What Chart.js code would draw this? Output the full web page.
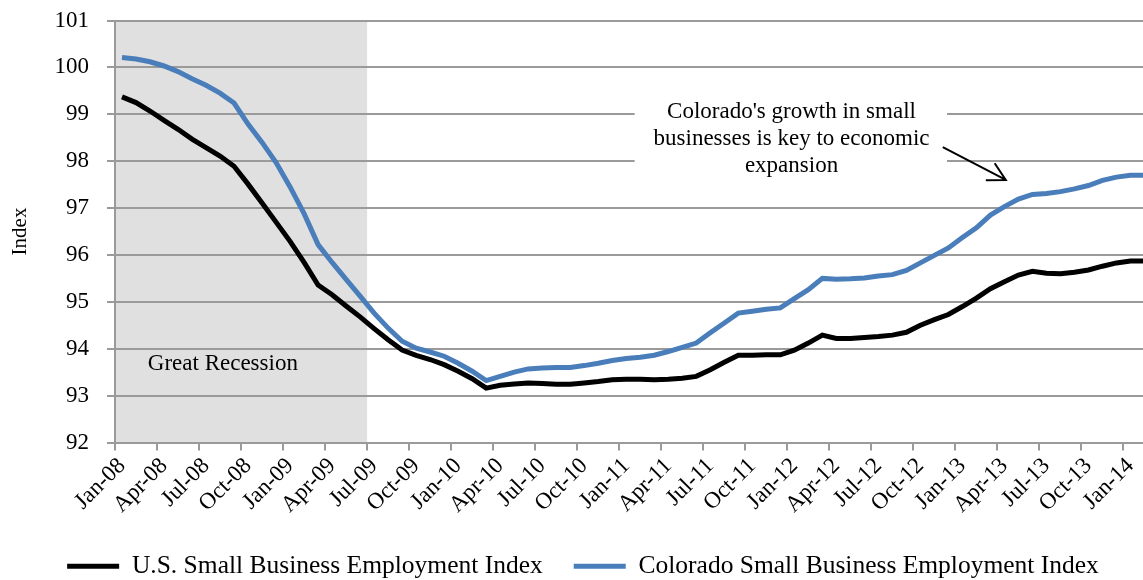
<!DOCTYPE html>
<html>
<head>
<meta charset="utf-8">
<script src="https://cdn.jsdelivr.net/npm/chart.js@4.4.1/dist/chart.umd.min.js"></script>
<style>
  html, body { margin: 0; padding: 0; background: #fff; overflow: hidden; }
  #wrap { position: relative; width: 1166px; height: 598px; margin-top: -9px; }
</style>
</head>
<body>
<div id="wrap"><canvas id="smallBizChart"></canvas></div>
<script>
// monthly categories, Jan-08 .. Feb-14
const monthNames = ['Jan', 'Feb', 'Mar', 'Apr', 'May', 'Jun', 'Jul', 'Aug', 'Sep', 'Oct', 'Nov', 'Dec'];
const months = [];
for (let yr = 2008; yr <= 2014; yr++) {
    for (let m = 0; m < 12; m++) {
        if (yr === 2014 && m > 1) break;
        months.push(monthNames[m] + '-' + String(yr).slice(2));
    }
}

const usIndex = [
    99.37, 99.25, 99.07, 98.87, 98.68, 98.47, 98.29, 98.11, 97.89, 97.51, 97.11, 96.70,
    96.29, 95.84, 95.36, 95.15, 94.91, 94.68, 94.43, 94.19, 93.97, 93.86, 93.77, 93.66,
    93.52, 93.36, 93.16, 93.22, 93.25, 93.27, 93.26, 93.24, 93.24, 93.27, 93.30, 93.34,
    93.35, 93.35, 93.34, 93.35, 93.37, 93.41, 93.55, 93.71, 93.86, 93.86, 93.87, 93.87,
    93.97, 94.12, 94.29, 94.22, 94.22, 94.24, 94.26, 94.29, 94.35, 94.50, 94.62, 94.73,
    94.90, 95.08, 95.28, 95.43, 95.57, 95.65, 95.61, 95.60, 95.63, 95.68, 95.76, 95.83,
    95.87, 95.87
];
const coloradoIndex = [
    100.21, 100.18, 100.12, 100.03, 99.91, 99.76, 99.62, 99.45, 99.24, 98.79, 98.40, 97.97,
    97.45, 96.88, 96.22, 95.84, 95.48, 95.12, 94.76, 94.44, 94.16, 94.01, 93.93, 93.84,
    93.69, 93.52, 93.32, 93.41, 93.50, 93.57, 93.59, 93.60, 93.60, 93.64, 93.69, 93.75,
    93.79, 93.82, 93.86, 93.94, 94.03, 94.12, 94.34, 94.55, 94.76, 94.80, 94.84, 94.87,
    95.07, 95.26, 95.50, 95.48, 95.49, 95.51, 95.55, 95.58, 95.67, 95.83, 95.99, 96.15,
    96.37, 96.58, 96.85, 97.03, 97.19, 97.29, 97.31, 97.35, 97.41, 97.48, 97.59, 97.66,
    97.70, 97.70
];

const yRange = [92, 101];
const recession = ['Jan-08', 'Jun-09'];
const calloutLines = ["Colorado's growth in small", 'businesses is key to economic', 'expansion'];

const FONT = "'Liberation Serif', 'Times New Roman', serif";
const GRID = '#9a9a9a';

// shaded recession band, callout box, arrow and labels
const decorations = {
    id: 'decorations',
    beforeDraw(chart) {
        const { ctx, chartArea: area, scales: { x } } = chart;
        const half = (x.getPixelForValue(1) - x.getPixelForValue(0)) / 2;
        const x0 = x.getPixelForValue(months.indexOf(recession[0])) - half;
        const x1 = x.getPixelForValue(months.indexOf(recession[1])) + half;
        ctx.save();
        ctx.fillStyle = '#e0e0e0';
        ctx.fillRect(x0, area.top, x1 - x0, area.bottom - area.top);
        ctx.restore();
    },
    beforeDatasetsDraw(chart) {
        const { ctx, scales: { x, y } } = chart;
        ctx.save();
        ctx.fillStyle = '#000';
        ctx.font = '23px ' + FONT;
        ctx.textAlign = 'center';
        ctx.textBaseline = 'middle';
        ctx.fillText('Great Recession', x.getPixelForValue(7.2), y.getPixelForValue(93.67));

        // callout text on a white box
        const cx = x.getPixelForValue(47.8);
        const cy = y.getPixelForValue(99.05);
        const bx0 = x.getPixelForValue(36.6);
        const bx1 = x.getPixelForValue(58.9);
        const by0 = y.getPixelForValue(99.45);
        const by1 = y.getPixelForValue(97.5);
        ctx.fillStyle = '#fff';
        ctx.fillRect(bx0, by0, bx1 - bx0, by1 - by0);
        ctx.fillStyle = '#000';
        calloutLines.forEach((line, i) => ctx.fillText(line, cx, cy + i * 27));

        // arrow towards the Colorado line
        const ax = x.getPixelForValue(58.6), ay = y.getPixelForValue(98.3);
        const tx = x.getPixelForValue(63.1), ty = y.getPixelForValue(97.6);
        const ang = Math.atan2(ty - ay, tx - ax);
        ctx.strokeStyle = '#000';
        ctx.lineWidth = 2;
        ctx.beginPath();
        ctx.moveTo(ax, ay);
        ctx.lineTo(tx, ty);
        ctx.moveTo(tx - 20 * Math.cos(ang - 0.5), ty - 20 * Math.sin(ang - 0.5));
        ctx.lineTo(tx, ty);
        ctx.lineTo(tx - 20 * Math.cos(ang + 0.5), ty - 20 * Math.sin(ang + 0.5));
        ctx.stroke();
        ctx.restore();
    }
};

const ctx = document.getElementById('smallBizChart').getContext('2d');
new Chart(ctx, {
    type: 'line',
    data: {
        labels: months,
        datasets: [{
            label: 'U.S. Small Business Employment Index',
            data: usIndex,
            borderColor: '#000',
            backgroundColor: '#000',
            borderWidth: 5,
            pointRadius: 0,
            tension: 0
        }, {
            label: 'Colorado Small Business Employment Index',
            data: coloradoIndex,
            borderColor: '#4a7ebb',
            backgroundColor: '#4a7ebb',
            borderWidth: 5,
            pointRadius: 0,
            tension: 0
        }]
    },
    options: {
        responsive: true,
        maintainAspectRatio: false,
        animation: false,
        layout: { padding: 0 },
        plugins: {
            tooltip: { enabled: false },
            legend: {
                position: 'bottom',
                labels: {
                    usePointStyle: true,
                    pointStyle: 'line',
                    pointStyleWidth: 52,
                    color: '#000',
                    padding: 31,
                    font: { family: FONT, size: 25.5 }
                }
            }
        },
        scales: {
            x: {
                offset: true,
                grid: {
                    offset: true,
                    drawOnChartArea: false,
                    tickLength: 8,
                    lineWidth: 2,
                    tickColor: c => (c.index % 3 === 0 ? GRID : 'transparent')
                },
                border: { color: GRID, width: 2 },
                ticks: {
                    autoSkip: false,
                    minRotation: 45,
                    maxRotation: 45,
                    padding: 2,
                    color: '#000',
                    font: { family: FONT, size: 23 },
                    callback: (v, i) => (i % 3 === 0 ? months[i] : '')
                },
                afterFit(s) { s.height = 80; }
            },
            y: {
                min: yRange[0],
                max: yRange[1],
                grid: { color: GRID, lineWidth: 2, tickLength: 8, tickColor: GRID },
                border: { color: GRID, width: 2 },
                ticks: {
                    stepSize: 1,
                    padding: 18,
                    color: '#000',
                    font: { family: FONT, size: 23, lineHeight: 1 }
                },
                title: {
                    display: true,
                    text: 'Index',
                    color: '#000',
                    padding: { top: 8, bottom: 0 },
                    font: { family: FONT, size: 21 }
                },
                afterFit(s) { s.width = 115; }
            }
        }
    },
    plugins: [decorations]
});
</script>
</body>
</html>
